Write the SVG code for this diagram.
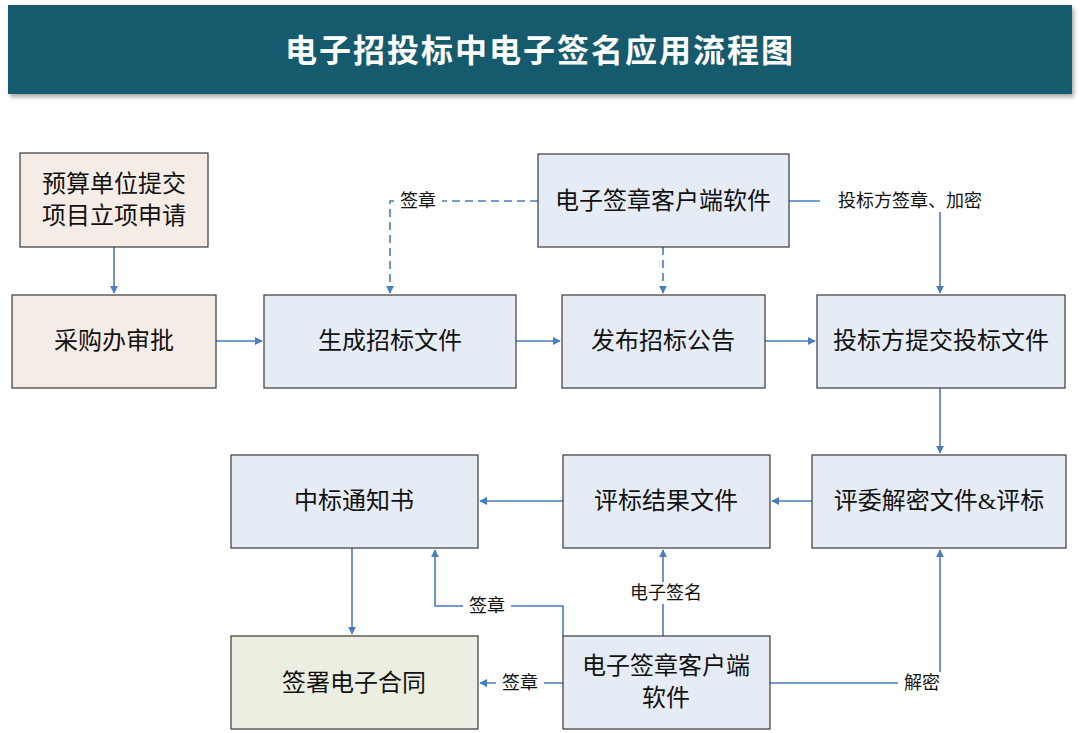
<svg xmlns="http://www.w3.org/2000/svg" width="1080" height="733" viewBox="0 0 1080 733">
<defs>
<marker id="ar" viewBox="0 0 10 10" refX="9" refY="5" markerWidth="8" markerHeight="8" orient="auto" markerUnits="userSpaceOnUse"><path d="M0,0L10,5L0,10z" fill="#4a7cc0"/></marker>
<filter id="sh" x="-5%" y="-20%" width="110%" height="140%"><feDropShadow dx="2" dy="3" stdDeviation="2" flood-color="#000" flood-opacity="0.35"/></filter>
</defs>
<style>
.n{stroke:#3a3a3a;stroke-width:1.2}
.b{fill:#e6ecf6}.p{fill:#f6ece6}.g{fill:#ebeee0}
.t{font-family:"Liberation Serif","Noto Sans CJK SC",serif;font-size:24px;fill:#111;text-anchor:middle;dominant-baseline:central}
.l{font-family:"Liberation Serif","Noto Sans CJK SC",serif;font-size:18px;fill:#111;text-anchor:middle;dominant-baseline:central}
.c{fill:none;stroke:#4a7cc0;stroke-width:1.6}
.d{stroke-dasharray:8,5}
.bg{fill:#fff}
</style>
<rect width="1080" height="733" fill="#fff"/>
<g id="title">
<rect x="8" y="5" width="1064" height="89" fill="#145a6e" filter="url(#sh)"/>
<text x="540" y="51" font-family="Liberation Serif,'Noto Sans CJK SC',serif" font-size="32" font-weight="bold" fill="#fff" text-anchor="middle" dominant-baseline="central" letter-spacing="2">电子招投标中电子签名应用流程图</text>
</g>
<g id="connectors">
<path class="c" d="M114,247V293" marker-end="url(#ar)"/>
<path class="c" d="M216,341H262" marker-end="url(#ar)"/>
<path class="c" d="M516,341H560" marker-end="url(#ar)"/>
<path class="c" d="M765,341H815" marker-end="url(#ar)"/>
<path class="c d" d="M538,201H390V293" marker-end="url(#ar)"/>
<path class="c d" d="M663,247V293" marker-end="url(#ar)"/>
<path class="c" d="M789,201H940V293" marker-end="url(#ar)"/>
<path class="c" d="M940,388V453" marker-end="url(#ar)"/>
<path class="c" d="M812,501H772" marker-end="url(#ar)"/>
<path class="c" d="M563,501H480" marker-end="url(#ar)"/>
<path class="c" d="M352,548V634" marker-end="url(#ar)"/>
<path class="c" d="M663,636V550" marker-end="url(#ar)"/>
<path class="c" d="M563,636V606H435V550" marker-end="url(#ar)"/>
<path class="c" d="M563,683H480" marker-end="url(#ar)"/>
<path class="c" d="M770,683H940V550" marker-end="url(#ar)"/>
<rect class="bg" x="394" y="190" width="48" height="22"/><text class="l" x="418" y="201">签章</text>
<rect class="bg" x="820" y="190" width="180" height="22"/><text class="l" x="910" y="201">投标方签章、加密</text>
<rect class="bg" x="622" y="582" width="84" height="22"/><text class="l" x="666" y="593">电子签名</text>
<rect class="bg" x="463" y="595" width="48" height="22"/><text class="l" x="487" y="606">签章</text>
<rect class="bg" x="496" y="672" width="48" height="22"/><text class="l" x="520" y="683">签章</text>
<rect class="bg" x="898" y="672" width="48" height="22"/><text class="l" x="922" y="683">解密</text>
</g>
<g id="n1"><rect class="n p" x="20" y="153" width="188" height="94"/><text class="t" x="114" y="184">预算单位提交</text><text class="t" x="114" y="216">项目立项申请</text></g>
<g id="n2"><rect class="n p" x="12" y="295" width="204" height="93"/><text class="t" x="114" y="341">采购办审批</text></g>
<g id="n3"><rect class="n b" x="264" y="295" width="252" height="93"/><text class="t" x="390" y="341">生成招标文件</text></g>
<g id="n4"><rect class="n b" x="562" y="295" width="203" height="93"/><text class="t" x="663" y="341">发布招标公告</text></g>
<g id="n5"><rect class="n b" x="817" y="295" width="248" height="93"/><text class="t" x="941" y="341">投标方提交投标文件</text></g>
<g id="n6"><rect class="n b" x="538" y="154" width="251" height="93"/><text class="t" x="663" y="201">电子签章客户端软件</text></g>
<g id="n7"><rect class="n b" x="812" y="455" width="254" height="93"/><text class="t" x="939" y="501">评委解密文件&amp;评标</text></g>
<g id="n8"><rect class="n b" x="563" y="455" width="207" height="93"/><text class="t" x="666" y="501">评标结果文件</text></g>
<g id="n9"><rect class="n b" x="231" y="455" width="247" height="93"/><text class="t" x="354" y="501">中标通知书</text></g>
<g id="n10"><rect class="n g" x="231" y="636" width="247" height="93"/><text class="t" x="354" y="683">签署电子合同</text></g>
<g id="n11"><rect class="n b" x="563" y="636" width="207" height="93"/><text class="t" x="666" y="666">电子签章客户端</text><text class="t" x="666" y="698">软件</text></g>
</svg>
